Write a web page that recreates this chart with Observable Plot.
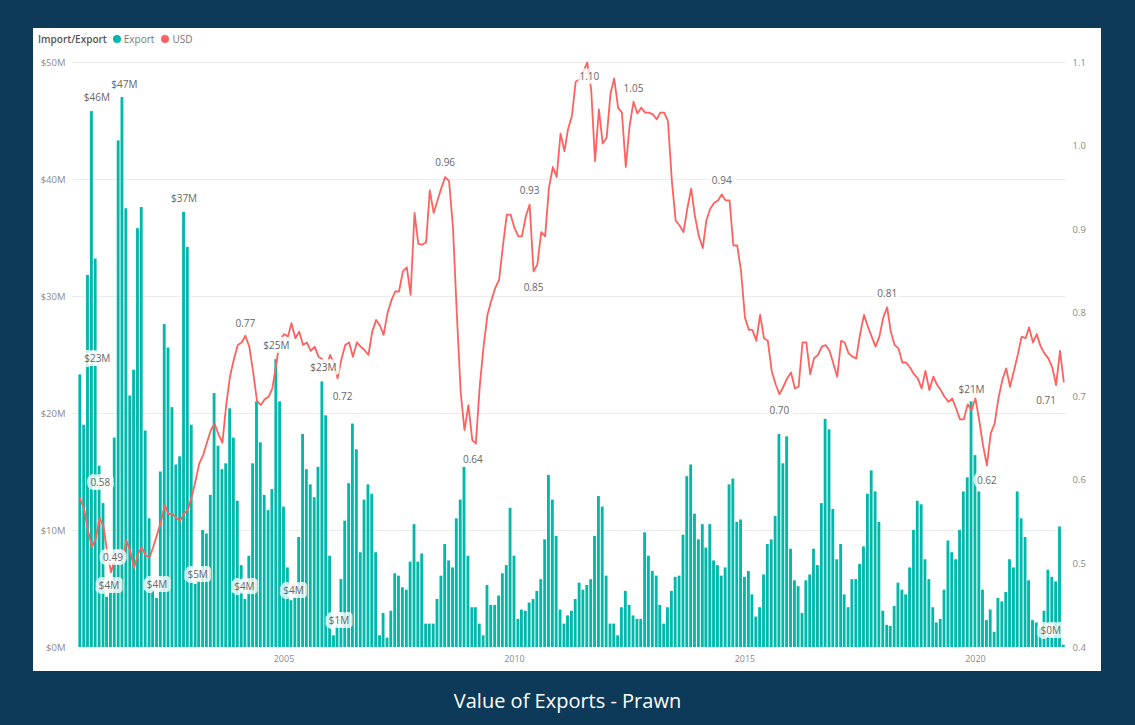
<!DOCTYPE html>
<html>
<head>
<meta charset="utf-8">
<script src="https://cdn.jsdelivr.net/npm/d3@7"></script>
<script src="https://cdn.jsdelivr.net/npm/@observablehq/plot@0.6"></script>
<style>
  html, body { margin: 0; padding: 0; }
  body {
    width: 1135px; height: 725px; overflow: hidden; position: relative;
    background: #0c3a58; font-family: "Open Sans", "DejaVu Sans", sans-serif;
  }
  #panel { position: absolute; left: 33px; top: 28px; width: 1068px; height: 643px; background: #fff; }
  #panel svg { position: absolute; left: 0; top: 0; }
  #legend {
    position: absolute; left: 5px; top: 4px; z-index: 2;
    display: flex; align-items: center; font-size: 10px; color: #777; white-space: nowrap;
  }
  #legend .head { color: #555; font-weight: 600; margin-right: 6px; }
  #legend .sw { width: 8px; height: 8px; border-radius: 50%; display: inline-block; margin-right: 3px; }
  #legend .item { display: flex; align-items: center; margin-right: 7px; }
  #title {
    position: absolute; left: 0; top: 687px; width: 1135px; text-align: center;
    color: #fff; font-size: 20px; font-weight: 500;
  }
</style>
</head>
<body>
<div id="panel">
  <div id="legend">
    <span class="head">Import/Export</span>
    <span class="item"><span class="sw" style="background:#01B8AA"></span>Export</span>
    <span class="item"><span class="sw" style="background:#FD625E"></span>USD</span>
  </div>
</div>
<div id="title">Value of Exports - Prawn</div>
<script>
// Monthly series, August 2000 through December 2021.
const firstMonth = {year: 2000, month: 7}; // August (0-based month)

// Prawn export value, $ millions
const exportsM = [
  23.3, 19.0, 31.8, 45.8, 33.2,                                          // 2000 Aug-Dec
  15.5, 12.3, 4.3, 5.5, 17.9, 43.3, 47.0, 37.5, 21.5, 23.7, 35.8, 37.6,  // 2001
  18.5, 11.0, 5.0, 4.2, 15.0, 27.6, 25.6, 20.5, 15.6, 16.3, 37.2, 34.2,  // 2002
  19.0, 5.4, 6.5, 10.0, 9.7, 13.0, 21.7, 17.2, 15.2, 15.7, 20.4, 17.9,   // 2003
  12.5, 7.0, 4.1, 7.8, 15.7, 21.0, 17.5, 13.0, 11.7, 13.5, 24.6, 21.0,   // 2004
  12.0, 6.8, 4.0, 5.0, 9.4, 18.2, 15.2, 13.9, 12.8, 15.4, 22.7, 19.8,    // 2005
  7.8, 1.0, 2.5, 5.8, 10.8, 14.0, 19.1, 16.9, 8.1, 12.6, 13.9, 13.1,     // 2006
  8.1, 1.0, 2.9, 0.8, 3.1, 6.3, 6.1, 5.1, 4.9, 7.3, 10.5, 7.3,           // 2007
  8.0, 2.0, 2.0, 2.0, 4.1, 6.1, 8.8, 7.4, 6.8, 11.0, 12.6, 15.4,         // 2008
  7.8, 3.4, 3.4, 2.0, 1.0, 5.3, 3.6, 3.6, 4.4, 6.3, 7.0, 11.9,           // 2009
  7.8, 2.4, 3.2, 3.1, 3.8, 4.1, 4.8, 5.8, 9.2, 14.7, 12.6, 9.5,          // 2010
  3.2, 2.0, 2.7, 3.1, 4.1, 5.5, 4.9, 5.3, 5.8, 9.5, 12.9, 12.0,          // 2011
  6.1, 2.0, 2.0, 1.0, 3.4, 4.8, 3.6, 2.7, 2.4, 2.4, 9.8, 7.8,            // 2012
  6.5, 6.1, 3.6, 2.0, 3.4, 4.8, 6.0, 6.1, 9.6, 14.6, 15.6, 11.4,         // 2013
  9.2, 10.5, 8.5, 10.5, 7.4, 7.0, 6.1, 6.8, 13.9, 14.4, 10.7, 10.9,      // 2014
  6.0, 6.5, 4.5, 2.6, 3.4, 6.2, 8.8, 9.2, 11.2, 18.2, 15.7, 18.0,        // 2015
  8.4, 5.7, 5.2, 2.9, 5.7, 6.2, 8.4, 7.0, 12.3, 19.5, 18.6, 11.8,        // 2016
  7.5, 8.8, 4.5, 3.4, 5.8, 5.8, 7.1, 8.6, 13.1, 15.1, 13.3, 10.7,        // 2017
  3.1, 1.9, 1.8, 3.5, 5.5, 4.9, 4.5, 6.8, 10.0, 12.5, 12.2, 7.5,         // 2018
  5.8, 3.4, 2.1, 2.4, 4.9, 9.1, 8.1, 7.5, 10.0, 13.3, 14.5, 21.0,        // 2019
  16.4, 13.3, 4.9, 2.3, 3.2, 1.3, 4.2, 3.9, 4.7, 7.5, 6.8, 13.3,         // 2020
  11.0, 9.4, 5.7, 2.3, 2.1, 1.6, 3.1, 6.6, 6.0, 5.6, 10.3, 0.2           // 2021
];

// AUD to USD exchange rate
const usdRate = [
  0.578, 0.565, 0.540, 0.520, 0.530,
  0.555, 0.545, 0.515, 0.490, 0.505, 0.510, 0.505, 0.528, 0.515, 0.495, 0.512, 0.520,
  0.510, 0.508, 0.520, 0.535, 0.550, 0.570, 0.560, 0.560, 0.555, 0.552, 0.560, 0.565,
  0.580, 0.600, 0.620, 0.630, 0.645, 0.660, 0.668, 0.655, 0.645, 0.690, 0.725, 0.745,
  0.762, 0.765, 0.773, 0.760, 0.730, 0.695, 0.690, 0.697, 0.700, 0.710, 0.740, 0.768,
  0.775, 0.772, 0.788, 0.770, 0.778, 0.762, 0.765, 0.755, 0.760, 0.748, 0.745, 0.735,
  0.750, 0.740, 0.722, 0.745, 0.762, 0.765, 0.748, 0.765, 0.760, 0.756, 0.750, 0.778,
  0.792, 0.785, 0.774, 0.800, 0.815, 0.826, 0.826, 0.850, 0.855, 0.822, 0.920, 0.883,
  0.882, 0.885, 0.947, 0.920, 0.935, 0.950, 0.963, 0.958, 0.902, 0.800, 0.705, 0.660,
  0.690, 0.648, 0.644, 0.713, 0.760, 0.798, 0.815, 0.830, 0.840, 0.880, 0.918, 0.918,
  0.902, 0.892, 0.892, 0.916, 0.930, 0.850, 0.858, 0.897, 0.892, 0.950, 0.975, 0.963,
  1.015, 0.994, 1.020, 1.036, 1.077, 1.080, 1.090, 1.100, 1.067, 0.982, 1.044, 1.003,
  1.010, 1.063, 1.081, 1.046, 1.040, 0.975, 1.024, 1.053, 1.039, 1.046, 1.040, 1.040,
  1.038, 1.032, 1.040, 1.040, 1.030, 0.958, 0.911, 0.905, 0.897, 0.925, 0.949, 0.916,
  0.892, 0.878, 0.911, 0.925, 0.932, 0.935, 0.942, 0.935, 0.935, 0.881, 0.881, 0.850,
  0.795, 0.780, 0.780, 0.767, 0.798, 0.770, 0.767, 0.731, 0.715, 0.703, 0.712, 0.722,
  0.729, 0.710, 0.712, 0.765, 0.765, 0.727, 0.746, 0.750, 0.760, 0.762, 0.755, 0.740,
  0.724, 0.767, 0.765, 0.752, 0.748, 0.746, 0.775, 0.798, 0.784, 0.772, 0.760, 0.772,
  0.795, 0.807, 0.778, 0.762, 0.758, 0.741, 0.741, 0.735, 0.727, 0.722, 0.710, 0.731,
  0.708, 0.724, 0.715, 0.708, 0.700, 0.694, 0.698, 0.686, 0.673, 0.673, 0.691, 0.684,
  0.698, 0.671, 0.642, 0.618, 0.656, 0.668, 0.698, 0.720, 0.734, 0.712, 0.731, 0.750,
  0.772, 0.770, 0.783, 0.765, 0.775, 0.760, 0.752, 0.746, 0.735, 0.714, 0.755, 0.718
];

// Axis ticks
const exportTicks = [0, 10, 20, 30, 40, 50];
const usdTicks = [0.4, 0.5, 0.6, 0.7, 0.8, 0.9, 1.0, 1.1];
const yearTicks = [2005, 2010, 2015, 2020];

// Data labels: [month index, dx, dy]
const exportNotes = [
  [0, 17, -16], [3, 5, -14], [11, 2, -13], [27, 0, -13], [51, 0, -14], [63, 1, -14], [232, 0, -12],
  [7, 2, -11], [20, 0, -14], [30, 2, -10], [43, -1, -13], [55, 2, -10], [66, 5, -15], [256, -13, -14]
];
const usdNotes = [
  [0, 20, -16], [8, 2, -14], [43, 0, -12], [67, 5, 18], [95, 0, -14], [103, -3, 16],
  [117, 0, -14], [118, 0, 16], [132, 2, 14], [144, 0, -13], [167, 0, -14], [182, 0, 17],
  [210, 0, -14], [236, 0, 15], [254, -10, 16]
];

// USD rate is drawn against the export axis: 0.4..1.1 maps onto $0M..$50M
const usdLo = 0.4, usdHi = 1.1, expHi = 50;
const toExp = u => (u - usdLo) / (usdHi - usdLo) * expHi;
const toUsd = m => usdLo + m / expHi * (usdHi - usdLo);

const DAY = 864e5;
const rows = exportsM.map((v, i) => ({
  date: new Date(Date.UTC(firstMonth.year, firstMonth.month + i, 1)),
  exp: v,
  usd: usdRate[i]
}));

const tealBar = "#01B8AA", redLine = "#FD625E";
const noteStyle = {
  fontSize: 10, fill: "#666", stroke: "white", strokeWidth: 8, strokeOpacity: 0.78,
  strokeLinejoin: "round", paintOrder: "stroke"
};
const tickStyle = {tickSize: 0, color: "#8a8a8a", label: null};

const chart = Plot.plot({
  width: 1068,
  height: 643,
  marginLeft: 39,
  marginRight: 35,
  marginTop: 34,
  marginBottom: 24,
  style: {background: "transparent", fontFamily: "'Open Sans', 'DejaVu Sans', sans-serif"},
  x: {type: "utc", domain: [new Date(Date.UTC(2000, 0, 1)), new Date(Date.UTC(2022, 0, 1))], range: [19.9, 1034.2], axis: null},
  y: {domain: [0, expHi], range: [619, 34], axis: null},
  marks: [
    Plot.ruleY(exportTicks.filter(t => t > 0), {stroke: "#ececec", strokeWidth: 1}),
    Plot.rectY(rows, {
      x1: d => new Date(+d.date - 15.2 * DAY),
      x2: d => new Date(+d.date + 15.2 * DAY),
      y: "exp",
      fill: tealBar,
      insetLeft: 0.5,
      insetRight: 0.5
    }),
    Plot.line(rows, {x: "date", y: d => toExp(d.usd), stroke: redLine, strokeWidth: 1.8, curve: "linear"}),
    Plot.axisY({...tickStyle, anchor: "left", ticks: exportTicks, tickFormat: d => `$${d}M`, tickPadding: 7, fontSize: 9.5}),
    Plot.axisY({...tickStyle, anchor: "right", ticks: usdTicks.map(toExp), tickFormat: d => toUsd(d).toFixed(1), tickPadding: 6, fontSize: 9.5}),
    Plot.axisX({...tickStyle, anchor: "bottom", ticks: yearTicks.map(y => new Date(Date.UTC(y, 0, 1))), tickFormat: d3.utcFormat("%Y"), tickPadding: 8, fontSize: 9}),
    ...exportNotes.map(([i, dx, dy]) => Plot.text([rows[i]], {
      x: "date", y: "exp", text: d => `$${Math.round(d.exp)}M`, dx, dy, ...noteStyle
    })),
    ...usdNotes.map(([i, dx, dy]) => Plot.text([rows[i]], {
      x: "date", y: d => toExp(d.usd), text: d => d.usd.toFixed(2), dx, dy, ...noteStyle
    }))
  ]
});

document.getElementById("panel").appendChild(chart);
</script>
</body>
</html>
